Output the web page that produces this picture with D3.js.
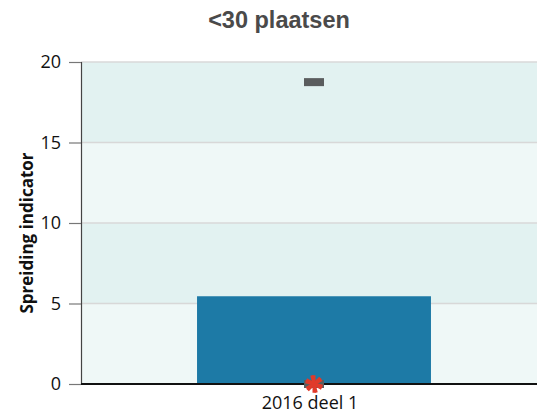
<!DOCTYPE html>
<html><head><meta charset="utf-8">
<script src="https://cdn.jsdelivr.net/npm/d3@7"></script>
<style>body{margin:0;background:#fff}svg{display:block}</style>
</head><body>
<script>
const categories = ["2016 deel 1"];
const barValues = [5.45];
const markerValues = [18.75];
const starValues = [0];
const yTicks = [0, 5, 10, 15, 20];
const title = "<30 plaatsen";
const yLabel = "Spreiding indicator";

const W = 537, H = 414;
const m = {left: 81, right: 0, top: 62, bottom: 30};
const svg = d3.select("body").append("svg").attr("width", W).attr("height", H);

const x = d3.scaleBand().domain(categories).range([m.left, 547]).paddingInner(0).paddingOuter(0.496);
const y = d3.scaleLinear().domain([0, 20]).range([H - m.bottom, m.top]);

// bands
const bands = [[0,5],[5,10],[10,15],[15,20]];
svg.selectAll("rect.band").data(bands).enter().append("rect")
  .attr("x", m.left).attr("width", W - m.right - m.left)
  .attr("y", d => y(d[1])).attr("height", d => y(d[0]) - y(d[1]))
  .attr("fill", (d,i) => i % 2 === 0 ? "#eff8f7" : "#e2f2f1");

// grid
svg.selectAll("line.grid").data(yTicks.filter(t => t > 0)).enter().append("line")
  .attr("x1", m.left).attr("x2", W).attr("y1", d => y(d)).attr("y2", d => y(d))
  .attr("stroke", "#d8d8d8").attr("stroke-width", 1.5);

// bars
svg.selectAll("rect.bar").data(barValues).enter().append("rect")
  .attr("x", (d,i) => x(categories[i])).attr("width", x.bandwidth())
  .attr("y", d => y(d)).attr("height", d => y(0) - y(d)).attr("fill", "#1d7aa6");

// y axis
const yAxis = d3.axisLeft(y).tickValues(yTicks).tickSize(12).tickPadding(8);
const ga = svg.append("g").attr("transform", `translate(${m.left},0)`).call(yAxis);
ga.select(".domain").attr("stroke", "#444").attr("stroke-width", 1.2);
ga.selectAll(".tick line").attr("stroke", "#777").attr("stroke-width", 1.2);
ga.selectAll("text").attr("font-family", "'Open Sans', sans-serif").attr("font-size", 18).attr("fill", "#111");

// x axis line
svg.append("line").attr("x1", m.left).attr("x2", W).attr("y1", y(0)).attr("y2", y(0))
  .attr("stroke", "#111").attr("stroke-width", 2);

// x labels
svg.selectAll("text.xl").data(categories).enter().append("text")
  .attr("x", d => x(d) + x.bandwidth()/2 - 4).attr("y", y(0) + 25)
  .attr("text-anchor", "middle").attr("font-family", "'Open Sans', sans-serif")
  .attr("font-size", 18).attr("fill", "#111").text(d => d);

// markers (dark gray rectangles)
const allMarkers = markerValues.concat(starValues);
svg.selectAll("rect.mk").data(allMarkers).enter().append("rect")
  .attr("x", x(categories[0]) + x.bandwidth()/2 - 10).attr("width", 20)
  .attr("y", d => y(d) - 4).attr("height", 8).attr("fill", "#5a5d5e");

// star marker
const star = d3.symbol().type(d3.symbolAsterisk).size(220);
svg.selectAll("path.star").data(starValues).enter().append("path")
  .attr("d", star)
  .attr("transform", (d,i) => `translate(${x(categories[i]) + x.bandwidth()/2},${y(d)})`)
  .attr("stroke", "#e03a2a").attr("stroke-width", 3).attr("fill", "none");
svg.selectAll("path.star2").data(starValues).enter().append("path")
  .attr("d", star)
  .attr("transform", (d,i) => `translate(${x(categories[i]) + x.bandwidth()/2},${y(d)}) rotate(45)`)
  .attr("stroke", "#e03a2a").attr("stroke-width", 3).attr("fill", "none");

// title
svg.append("text").attr("x", 279).attr("y", 28).attr("text-anchor", "middle")
  .attr("font-family", "'Liberation Sans', Arial, sans-serif").attr("font-weight", "bold")
  .attr("font-size", 23.5).attr("fill", "#4a4a4a").text(title);

// y label
svg.append("text").attr("transform", `translate(33,233) rotate(-90)`)
  .attr("text-anchor", "middle").attr("font-family", "'Open Sans', sans-serif")
  .attr("font-weight", "bold").attr("font-size", 17).attr("fill", "#111").text(yLabel);
</script>
</body></html>
